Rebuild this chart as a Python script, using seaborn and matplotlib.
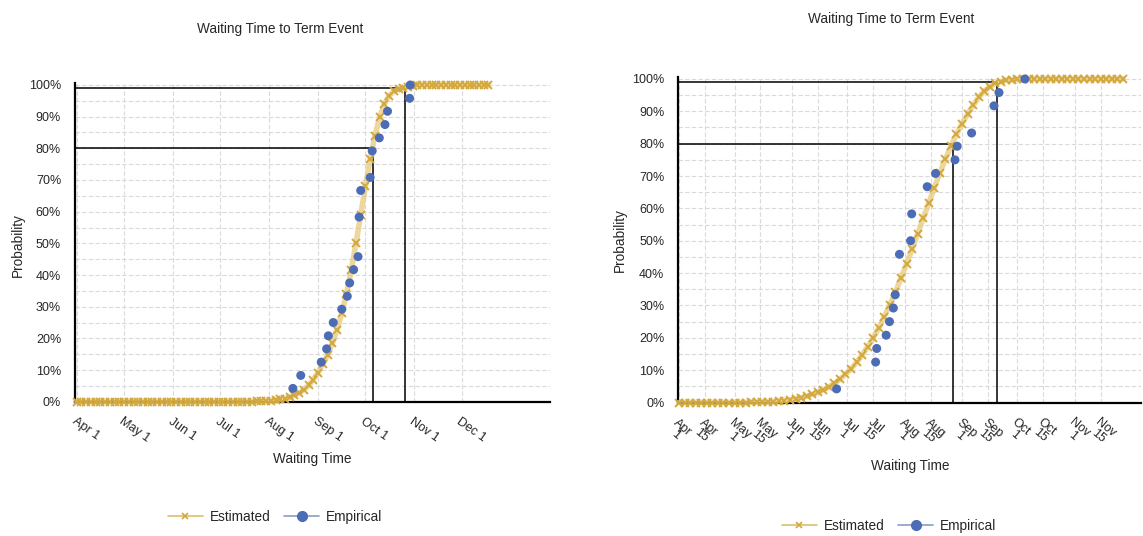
import matplotlib
matplotlib.use("Agg")
import matplotlib.pyplot as plt
from matplotlib.lines import Line2D
from matplotlib.ticker import MultipleLocator, PercentFormatter
import pandas as pd
import seaborn as sns

# ---------------------------------------------------------------- data
# Waiting time is counted in days from April 1.
left_est_days = list(range(0, 262, 3))
left_est_prob = [
    0.000, 0.000, 0.000, 0.000, 0.000, 0.000, 0.000, 0.000, 0.000, 0.000,
    0.000, 0.000, 0.000, 0.000, 0.000, 0.000, 0.000, 0.000, 0.000, 0.000,
    0.000, 0.000, 0.000, 0.000, 0.000, 0.000, 0.000, 0.000, 0.000, 0.000,
    0.000, 0.000, 0.000, 0.000, 0.000, 0.000, 0.000, 0.000,
    0.001, 0.001, 0.002, 0.003, 0.005, 0.007, 0.010, 0.014, 0.020, 0.028,
    0.038, 0.052, 0.070, 0.092, 0.118, 0.148, 0.184, 0.227, 0.279, 0.341,
    0.415, 0.500, 0.590, 0.680, 0.765, 0.840, 0.898, 0.940, 0.966, 0.980,
    0.987, 0.990, 0.994, 0.997, 0.999,
    1.000, 1.000, 1.000, 1.000, 1.000, 1.000, 1.000, 1.000, 1.000, 1.000,
    1.000, 1.000, 1.000, 1.000, 1.000,
]
left_emp_days = [137.0, 142.0, 155.0, 158.4, 159.5, 162.6, 168.0, 171.5, 173.0,
                 175.5, 178.3, 179.0, 180.0, 186.0, 187.3, 191.8, 195.4, 197.0,
                 211.0, 211.4]
left_emp_prob = [0.042, 0.083, 0.125, 0.167, 0.208, 0.250, 0.292, 0.333, 0.375,
                 0.417, 0.458, 0.583, 0.667, 0.708, 0.792, 0.833, 0.875, 0.917,
                 0.958, 1.000]
left_ref_days = [187.6, 208.2]

right_est_days = list(range(0, 241, 3))
right_est_prob = [
    0.000, 0.000, 0.000, 0.000, 0.000, 0.000, 0.000, 0.000, 0.000, 0.000,
    0.000, 0.000, 0.000,
    0.001, 0.001, 0.002, 0.002, 0.003, 0.005, 0.006, 0.009, 0.011, 0.015,
    0.019, 0.025, 0.031, 0.039, 0.048, 0.059, 0.072, 0.087, 0.104, 0.124,
    0.147, 0.172, 0.200, 0.231, 0.265, 0.302, 0.341, 0.384, 0.428, 0.474,
    0.521, 0.569, 0.616, 0.663, 0.709, 0.752, 0.792, 0.829, 0.862, 0.891,
    0.918, 0.943, 0.962, 0.976, 0.986, 0.992, 0.996, 0.998, 0.999,
    1.000, 1.000, 1.000, 1.000, 1.000, 1.000, 1.000, 1.000, 1.000, 1.000,
    1.000, 1.000, 1.000, 1.000, 1.000, 1.000, 1.000, 1.000, 1.000,
]
right_emp_days = [85.2, 106.3, 106.9, 112.0, 113.8, 115.9, 116.9, 119.2, 125.2,
                  125.8, 134.2, 138.7, 149.2, 150.4, 158.2, 170.3, 173.0, 187.0]
right_emp_prob = [0.042, 0.125, 0.167, 0.208, 0.250, 0.292, 0.333, 0.458, 0.500,
                  0.583, 0.667, 0.708, 0.750, 0.792, 0.833, 0.917, 0.958, 1.000]
right_ref_days = [148.0, 172.0]

ref_levels = [0.80, 0.99]

left_tick_labels = ["Apr 1", "May 1", "Jun 1", "Jul 1", "Aug 1", "Sep 1",
                    "Oct 1", "Nov 1", "Dec 1"]
right_tick_labels = ["Apr 1", "Apr 15", "May 1", "May 15", "Jun 1", "Jun 15",
                     "Jul 1", "Jul 15", "Aug 1", "Aug 15", "Sep 1", "Sep 15",
                     "Oct 1", "Oct 15", "Nov 1", "Nov 15"]

title_text = "Waiting Time to Term Event"
x_title = "Waiting Time"
y_title = "Probability"
series_names = ["Estimated", "Empirical"]

# ---------------------------------------------------------------- style
GOLD = "#D3A83E"
GOLD_BAND = "#E6CB7C"
GOLD_LINE = "#DDBF6E"
BLUE = "#4C6CB6"
GRID = "#DADADA"
FS = 9
FS_TEXT = 9.8

sns.set_style("white")
plt.rcParams["font.family"] = ["Liberation Sans", "DejaVu Sans"]
plt.rcParams["font.size"] = FS

W, H = 1143, 536
fig = plt.figure(figsize=(W / 100, H / 100), dpi=100)


def px_rect(x0, y0, x1, y1):
    """Axes rectangle from pixel edges (y measured from the top)."""
    return [x0 / W, 1 - y1 / H, (x1 - x0) / W, (y1 - y0) / H]


def day_of(label):
    base = pd.Timestamp("2011-04-01")
    return (pd.to_datetime(label + " 2011", format="%b %d %Y") - base).days


def draw_panel(ax, est_days, est_prob, emp_days, emp_prob, ref_days, xlim,
               ylim, tick_labels, rot, two_line):
    ax.set_xlim(*xlim)
    ax.set_ylim(*ylim)

    # reference quantile guides
    for d, lev in zip(ref_days, ref_levels):
        ax.hlines(lev, xlim[0], d, color="black", lw=1.1, zorder=2)
        ax.vlines(d, 0, lev, color="black", lw=1.1, zorder=2)

    # estimated curve: soft wide band with cross markers on top
    sns.lineplot(x=est_days, y=est_prob, ax=ax, color=GOLD_BAND, lw=4.0,
                 alpha=0.75, errorbar=None, clip_on=False, zorder=3)
    sns.lineplot(x=est_days, y=est_prob, ax=ax, color=GOLD, lw=0.0,
                 marker="x", markersize=5.5, markeredgewidth=1.4,
                 markeredgecolor=GOLD, errorbar=None, clip_on=False, zorder=3)
    sns.scatterplot(x=emp_days, y=emp_prob, ax=ax, color=BLUE, s=42,
                    edgecolor="none", linewidth=0, zorder=4, clip_on=False)
    ax.set_xlabel("")
    ax.set_ylabel("")

    # axes, ticks and grid
    ax.yaxis.set_major_locator(MultipleLocator(0.1))
    ax.yaxis.set_minor_locator(MultipleLocator(0.05))
    ax.yaxis.set_major_formatter(PercentFormatter(1.0, decimals=0))
    ticks = [day_of(t) for t in tick_labels]
    shown = [t.replace(" ", "\n") for t in tick_labels] if two_line else tick_labels
    ax.set_xticks(ticks)
    ax.set_xticklabels(shown, rotation=rot, ha="left", va="top",
                       rotation_mode="anchor", multialignment="center",
                       linespacing=0.85, fontsize=FS)
    ax.tick_params(axis="both", which="both", direction="out", length=7,
                   width=1.5, color="black", labelsize=FS, pad=3)
    ax.tick_params(axis="y", which="minor", length=5)
    ax.grid(True, axis="y", which="both", color=GRID, lw=0.8,
            linestyle=(0, (4, 2)))
    ax.grid(True, axis="x", which="major", color=GRID, lw=0.8,
            linestyle=(0, (4, 2)))
    ax.set_axisbelow(True)
    for side in ("top", "right"):
        ax.spines[side].set_visible(False)
    for side in ("left", "bottom"):
        ax.spines[side].set_color("black")
        ax.spines[side].set_linewidth(1.6)


ax_l = fig.add_axes(px_rect(75, 83.4, 550, 401.7))
draw_panel(ax_l, left_est_days, left_est_prob, left_emp_days, left_emp_prob,
           left_ref_days, (-1.1, 300), (0, 1.005), left_tick_labels, -35,
           False)

ax_r = fig.add_axes(px_rect(678.3, 76.7, 1141, 402.5))
draw_panel(ax_r, right_est_days, right_est_prob, right_emp_days,
           right_emp_prob, right_ref_days, (-0.4, 249.8), (0, 1.007),
           right_tick_labels, -40, True)


def fig_text(x, y, s, **kw):
    fig.text(x / W, 1 - y / H, s, ha="center", va="center", fontsize=FS_TEXT,
             **kw)


fig_text(280, 29, title_text)
fig_text(891, 19, title_text)
fig_text(18, 245, y_title, rotation=90)
fig_text(620, 240, y_title, rotation=90)
fig_text(312, 459, x_title)
fig_text(910, 466, x_title)

handles = [
    Line2D([], [], color=GOLD_LINE, lw=1.2, marker="x", markersize=5,
           markeredgewidth=1.2, markeredgecolor=GOLD),
    Line2D([], [], color="#8A9CC8", lw=1.2, marker="o", markersize=7,
           markerfacecolor=BLUE, markeredgecolor=BLUE),
]
for cx, cy in ((275, 517), (889, 526)):
    fig.legend(handles, series_names, loc="center",
               bbox_to_anchor=(cx / W, 1 - cy / H), ncol=2, frameon=False,
               fontsize=FS_TEXT, handlelength=2.6, handletextpad=0.5,
               columnspacing=1.0)

fig.savefig("out.png", dpi=100, facecolor="white")
